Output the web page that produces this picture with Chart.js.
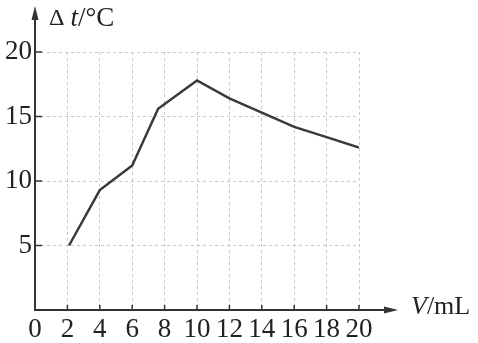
<!DOCTYPE html>
<html>
<head>
<meta charset="utf-8">
<script src="https://cdn.jsdelivr.net/npm/chart.js@4"></script>
<style>
  body { margin: 0; background: #fff; }
</style>
</head>
<body>
<canvas id="dt_chart" width="478" height="343"></canvas>
<script>
// volume added (mL) and temperature rise (°C)
const vValues = [2.1, 4, 6, 7.6, 10, 12, 14, 16, 18, 20];
const dtValues = [5, 9.3, 11.2, 15.6, 17.8, 16.4, 15.3, 14.2, 13.4, 12.6];
const yLabelTicks = [5, 10, 15, 20];

const points = vValues.map((v, i) => ({ x: v, y: dtValues[i] }));
const ink = '#333333';
const serif = "'Liberation Serif', 'DejaVu Serif', serif";

// axes with arrows, inward tick marks and the axis titles
const axisDeco = {
    id: 'axisDeco',
    afterDraw(chart) {
        const ctx = chart.ctx;
        const xs = chart.scales.x, ys = chart.scales.y;
        const x0 = xs.getPixelForValue(0), y0 = ys.getPixelForValue(0);
        ctx.save();
        ctx.strokeStyle = ink;
        ctx.fillStyle = ink;
        ctx.lineWidth = 2;
        // y axis
        ctx.beginPath();
        ctx.moveTo(x0, y0 + 1);
        ctx.lineTo(x0, 10);
        ctx.stroke();
        ctx.beginPath();
        ctx.moveTo(x0, 6);
        ctx.lineTo(x0 - 3.5, 20);
        ctx.lineTo(x0 + 3.5, 20);
        ctx.closePath();
        ctx.fill();
        // x axis
        ctx.beginPath();
        ctx.moveTo(x0 - 1, y0);
        ctx.lineTo(392, y0);
        ctx.stroke();
        ctx.beginPath();
        ctx.moveTo(398, y0);
        ctx.lineTo(384, y0 - 3.5);
        ctx.lineTo(384, y0 + 3.5);
        ctx.closePath();
        ctx.fill();
        // inward ticks
        ctx.lineWidth = 1.5;
        xs.ticks.forEach(t => {
            if (t.value === 0) return;
            const px = xs.getPixelForValue(t.value);
            ctx.beginPath();
            ctx.moveTo(px, y0);
            ctx.lineTo(px, y0 - 5);
            ctx.stroke();
        });
        ys.ticks.forEach(t => {
            if (t.value === 0) return;
            const py = ys.getPixelForValue(t.value);
            ctx.beginPath();
            ctx.moveTo(x0, py);
            ctx.lineTo(x0 + 7, py);
            ctx.stroke();
        });
        // titles
        ctx.fillStyle = '#222';
        ctx.textBaseline = 'middle';
        ctx.textAlign = 'left';
        let tx = 49;
        const ty = 19;
        ctx.font = '24px ' + serif;
        ctx.fillText('Δ ', tx, ty);
        tx += ctx.measureText('Δ ').width;
        ctx.font = 'italic 27px ' + serif;
        ctx.fillText('t', tx, ty);
        tx += ctx.measureText('t').width;
        ctx.font = '27px ' + serif;
        ctx.fillText('/°C', tx, ty);

        let vx = 411;
        const vy = y0 - 3;
        ctx.font = 'italic 26px ' + serif;
        ctx.fillText('V', vx, vy);
        vx += ctx.measureText('V').width;
        ctx.font = '26px ' + serif;
        ctx.fillText('/mL', vx, vy);
        ctx.restore();
    }
};

const config = {
    type: 'scatter',
    data: {
        datasets: [{
            label: 'Δt',
            data: points,
            showLine: true,
            borderColor: '#3a3a3a',
            borderWidth: 2.5,
            pointRadius: 0,
            tension: 0
        }]
    },
    options: {
        responsive: false,
        animation: false,
        layout: {
            padding: { left: 0, right: 119, top: 52, bottom: 0 }
        },
        plugins: {
            legend: { display: false },
            tooltip: { enabled: false }
        },
        scales: {
            x: {
                type: 'linear',
                min: 0,
                max: 20,
                afterFit(scale) { scale.height = 33; },
                grid: {
                    color: '#c8c8c8',
                    lineWidth: 1,
                    drawTicks: false,
                    tickLength: 0
                },
                border: { display: false, dash: [3, 3] },
                ticks: {
                    stepSize: 2,
                    autoSkip: false,
                    maxRotation: 0,
                    padding: 4,
                    color: '#222',
                    font: { family: serif, size: 27 }
                }
            },
            y: {
                type: 'linear',
                min: 0,
                max: 20,
                afterFit(scale) { scale.width = 35; },
                grid: {
                    color: '#c8c8c8',
                    lineWidth: 1,
                    drawTicks: false,
                    tickLength: 0
                },
                border: { display: false, dash: [3, 3] },
                ticks: {
                    stepSize: 2.5,
                    padding: 3,
                    color: '#222',
                    font: { family: serif, size: 27 },
                    callback: v => yLabelTicks.includes(v) ? String(v) : ''
                }
            }
        }
    },
    plugins: [axisDeco]
};

const dt_chart = new Chart(document.getElementById('dt_chart'), config);
</script>
</body>
</html>
